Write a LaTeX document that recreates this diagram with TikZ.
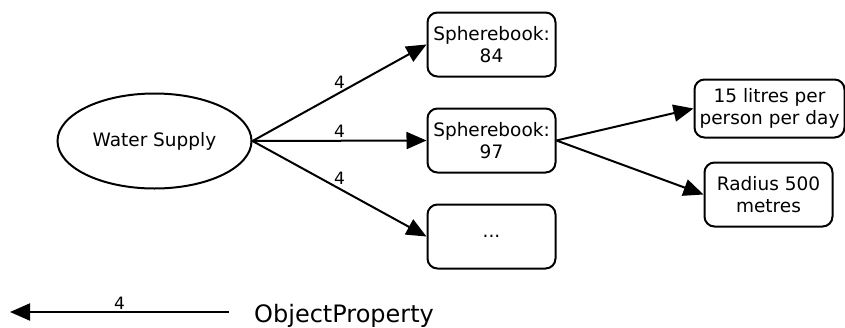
\documentclass[tikz,border=0pt]{standalone}
\usepackage{fontspec}
\setmainfont{DejaVu Sans}
\usetikzlibrary{arrows.meta,shapes.geometric}
\tikzset{
  nodefont/.style={font=\fontsize{18.5}{21.5}\selectfont},
  ent/.style={draw, line width=2pt, nodefont, align=center, inner sep=0pt},
  rbox/.style={ent, rectangle, rounded corners=10pt, minimum width=128pt, minimum height=64pt},
  ell/.style={ent, ellipse, minimum width=194pt, minimum height=95pt},
  rel/.style={line width=2pt, -{Triangle[length=20pt,width=17pt]}},
  lbl/.style={font=\fontsize{17}{20}\selectfont, inner sep=1pt}
}
\begin{document}
\begin{tikzpicture}[x=1pt,y=-1pt]
\useasboundingbox (0,0) rectangle (845,327);
\node[ell] (ws) at (154.5,141) {Water Supply};
\node[rbox] (b84) at (491.5,44.5) {Spherebook:\\84};
\node[rbox] (b97) at (491.5,140.5) {Spherebook:\\97};
\node[rbox] (bd) at (491.5,236.5) {...};
\node[rbox, minimum width=150pt, minimum height=58pt] (b15) at (769.5,108.5) {15 litres per\\person per day};
\node[rbox] (rad) at (768.5,194.5) {Radius 500\\metres};
\draw[rel] (ws.east) -- node[lbl, pos=0.5, above=2pt] {4} (b84.west);
\draw[rel] (ws.east) -- node[lbl, pos=0.5, above=1pt] {4} (b97.west);
\draw[rel] (ws.east) -- node[lbl, pos=0.5, above=2pt] {4} (bd.west);
\draw[rel] (b97.east) -- (b15.west);
\draw[rel] (b97.east) -- (rad.west);
\coordinate (ls) at (229,312);
\coordinate (le) at (10,312);
\draw[rel] (ls) -- node[lbl, above=1pt] {4} (le);
\node[anchor=base west, inner sep=0pt, font=\fontsize{24}{28}\selectfont] (op) at (254,322) {ObjectProperty};
\end{tikzpicture}
\end{document}
